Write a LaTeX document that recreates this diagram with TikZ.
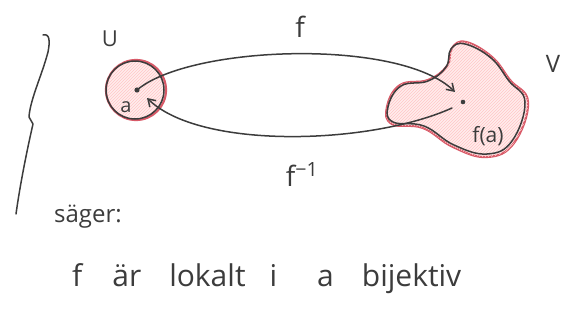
\documentclass[tikz,border=0pt]{standalone}
\usepackage{fontspec}
\setmainfont{Open Sans}
\usetikzlibrary{patterns,arrows.meta}
\definecolor{pen}{HTML}{3C3C3C}
\definecolor{redpen}{HTML}{D85A68}
\tikzset{
  penline/.style={draw=pen, line width=1.5pt, line cap=round, line join=round},
  region/.style={fill=red!7},
  hatch/.style={pattern=north east lines, pattern color=red!22},
  redrim/.style={draw=redpen, line width=2.2pt},
  tip/.style={-{Straight Barb[length=7pt,width=9pt]}},
  hand/.style={text=pen, inner sep=0pt, anchor=base},
}
\begin{document}
\begin{tikzpicture}[x=1pt,y=-1pt]
\useasboundingbox (0,0) rectangle (565,324);
% brace
\draw[penline] (43,35) .. controls (50,33) and (50,42) .. (48,52)
  .. controls (42,75) and (30,100) .. (29,117) -- (33,124)
  .. controls (27,150) and (20,185) .. (16,214);
% set U
\draw[redrim, region] (136,90) circle (30);
\fill[hatch] (136,90) circle (29);
\draw[penline] (135,90) circle (29);
% set V
\def\blob{plot[smooth cycle, tension=0.7] coordinates {(466,42) (492,57) (510,80) (528,102) (514,143) (487,157) (453,147) (423,128) (392,124) (387,107) (400,85) (428,80) (447,66) (452,48)}}
\draw[redrim, region] \blob;
\fill[hatch] \blob;
\draw[penline] plot[smooth cycle, tension=0.7] coordinates {(465,44) (491,58) (509,81) (525,102) (512,141) (487,154) (454,145) (424,126) (393,122) (388,107) (401,86) (428,81) (446,67) (451,49)};
% points
\fill[pen] (137,90) circle (2.6) coordinate (pa);
\fill[pen] (463,102) circle (2.3) coordinate (pb);
\coordinate (fend) at (455,92);
\coordinate (gstart) at (452,108);
\coordinate (gend) at (147,98);
% arrows
\draw[penline, tip] (pa) .. controls (190,45) and (400,38) .. (fend);
\draw[penline, tip] (gstart) .. controls (370,145) and (200,150) .. (gend);
% labels
\node[hand, font=\fontsize{22}{22}\selectfont] (U) at (110,46) {U};
\node[hand, font=\fontsize{24}{24}\selectfont] (V) at (553,72) {V};
\node[hand, font=\fontsize{28}{28}\selectfont] (f) at (300,37) {f};
\node[hand, font=\fontsize{28}{28}\selectfont] (finv) at (302,186) {f\textsuperscript{−1}};
\node[hand, font=\fontsize{20}{20}\selectfont] (a) at (126,112) {a};
\node[hand, font=\fontsize{21}{21}\selectfont] (fa) at (488,142) {f(a)};
\node[hand, font=\fontsize{24}{24}\selectfont, anchor=base west] (sager) at (54,222) {säger:};
\node[hand, font=\fontsize{30}{30}\selectfont, anchor=base west] (stmt) at (72,286)
  {f\hspace{30pt}är\hspace{28pt}lokalt\hspace{24pt}i\hspace{40pt}a\hspace{28pt}bijektiv};
\end{tikzpicture}
\end{document}
